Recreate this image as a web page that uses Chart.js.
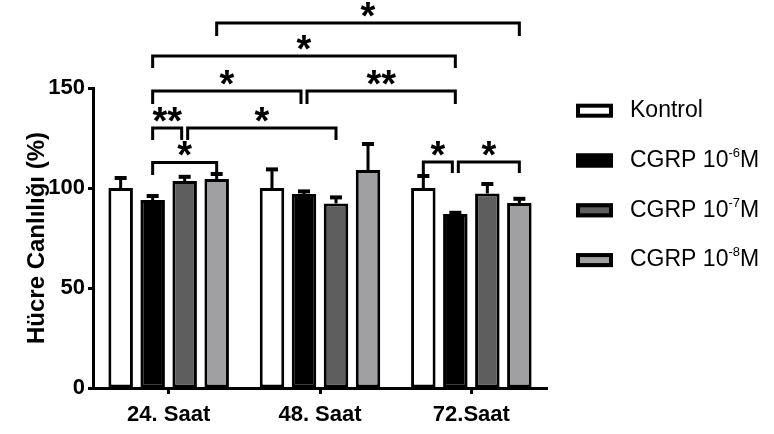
<!DOCTYPE html>
<html>
<head>
<meta charset="utf-8">
<script src="https://cdn.jsdelivr.net/npm/chart.js@4.4.1/dist/chart.umd.min.js"></script>
<style>
  html, body { margin: 0; padding: 0; background: #fff; }
  canvas { display: block; }
</style>
</head>
<body>
<canvas id="chart" width="774" height="434"></canvas>
<script>
// ---- data ----
const categories = ['24. Saat', '48. Saat', '72.Saat'];
const seriesLabels = ['Kontrol', 'CGRP 10⁻⁶M', 'CGRP 10⁻⁷M', 'CGRP 10⁻⁸M'];

// mean cell viability (%)
const kontrol = [100, 100, 100];
const cgrp6   = [94, 97, 87];
const cgrp7   = [103.5, 92.3, 97.3];
const cgrp8   = [104.5, 109, 92.5];

// upper end of the error bars (%)
const kontrolErr = [105, 109.3, 106];
const cgrp6Err   = [96, 98.3, 87.6];
const cgrp7Err   = [105.6, 95.3, 102];
const cgrp8Err   = [107, 122, 94.6];

const yTicks = [0, 50, 100, 150];

// significance brackets: ends as [category, series], bracket level and leg ends in %
const comparisons = [
  { from: [0, 3], to: [2, 3], at: 182.5, legs: [176, 176],   mark: '*'  },
  { from: [0, 1], to: [2, 1], at: 166,   legs: [160, 160],   mark: '*'  },
  { from: [0, 1], to: [1, 1], at: 148.5, legs: [142, 142],   mark: '*'  },
  { from: [1, 1], to: [2, 1], at: 148.5, legs: [142, 142],   mark: '**' },
  { from: [0, 1], to: [0, 2], at: 130,   legs: [124, 124],   mark: '**' },
  { from: [0, 2], to: [1, 2], at: 130,   legs: [124, 124],   mark: '*'  },
  { from: [0, 1], to: [0, 3], at: 112.8, legs: [106.5, 107], mark: '*'  },
  { from: [2, 0], to: [2, 1], at: 113,   legs: [106, 107.5], mark: '*'  },
  { from: [2, 1], to: [2, 3], at: 113,   legs: [107.5, 107.5], mark: '*' }
];

// ---- styling ----
const FONT = "'Liberation Sans', Arial, Helvetica, sans-serif";
const seriesColors = ['#ffffff', '#000000', '#5e5e5e', '#a0a0a2'];
const seriesValues = [kontrol, cgrp6, cgrp7, cgrp8];
const seriesErrors = [kontrolErr, cgrp6Err, cgrp7Err, cgrp8Err];

Chart.defaults.font.family = FONT;
Chart.defaults.color = '#000';

// upward error bars with a flat cap
const errorBarPlugin = {
  id: 'errorBarPlugin',
  afterDatasetsDraw(chart) {
    const ctx = chart.ctx;
    const yScale = chart.scales.y;
    ctx.save();
    ctx.fillStyle = '#000';
    chart.data.datasets.forEach((ds, i) => {
      const meta = chart.getDatasetMeta(i);
      meta.data.forEach((bar, j) => {
        const top = yScale.getPixelForValue(ds.data[j]);
        const end = yScale.getPixelForValue(ds.errorHigh[j]);
        if (top - end > 0) ctx.fillRect(bar.x - 1.5, end, 3, top - end);
        ctx.fillRect(bar.x - 6, end - 2, 12, 4);
      });
    });
    ctx.restore();
  }
};

// significance brackets with asterisks above the bars
const bracketPlugin = {
  id: 'bracketPlugin',
  afterDraw(chart) {
    const ctx = chart.ctx;
    const yScale = chart.scales.y;
    const barX = (ref) => chart.getDatasetMeta(ref[1]).data[ref[0]].x;
    const same = (a, b) => a[0] === b[0] && a[1] === b[1];
    ctx.save();
    ctx.strokeStyle = '#000';
    ctx.fillStyle = '#000';
    ctx.lineWidth = 3;
    ctx.lineJoin = 'miter';
    ctx.lineCap = 'butt';
    comparisons.forEach((c) => {
      let x1 = barX(c.from);
      let x2 = barX(c.to);
      // separate legs of neighbouring brackets that meet on the same bar
      comparisons.forEach((o) => {
        if (o === c || o.at !== c.at) return;
        if (same(o.to, c.from)) x1 += 3;
        if (same(o.from, c.to)) x2 -= 3;
      });
      const y = yScale.getPixelForValue(c.at);
      const l1 = yScale.getPixelForValue(c.legs[0]);
      const l2 = yScale.getPixelForValue(c.legs[1]);
      ctx.beginPath();
      ctx.moveTo(x1, l1);
      ctx.lineTo(x1, y);
      ctx.lineTo(x2, y);
      ctx.lineTo(x2, l2);
      ctx.stroke();
      const size = 38;
      ctx.font = 'bold ' + size + 'px ' + FONT;
      ctx.textAlign = 'center';
      ctx.textBaseline = 'alphabetic';
      ctx.fillText(c.mark, (x1 + x2) / 2, y - 16 + 0.58 * size);
    });
    ctx.restore();
  }
};

// legend on the right, with superscript exponents
const SUP = { '⁻': '-', '⁰': '0', '¹': '1', '²': '2', '³': '3', '⁴': '4', '⁵': '5', '⁶': '6', '⁷': '7', '⁸': '8', '⁹': '9' };
function segments(text) {
  const out = [];
  for (const ch of text) {
    const sup = ch in SUP;
    const c = sup ? SUP[ch] : ch;
    if (out.length && out[out.length - 1].sup === sup) out[out.length - 1].text += c;
    else out.push({ text: c, sup });
  }
  return out;
}
const legendPlugin = {
  id: 'sideLegend',
  afterDraw(chart) {
    const ctx = chart.ctx;
    const boxX = 576, boxW = 37, boxH = 14, textX = 630;
    const firstRow = 108.7, rowGap = 49.8;
    ctx.save();
    chart.data.datasets.forEach((ds, i) => {
      const yc = firstRow + i * rowGap;
      const by = yc + 2 - boxH / 2;
      ctx.fillStyle = ds.backgroundColor;
      ctx.fillRect(boxX, by, boxW, boxH);
      ctx.strokeStyle = '#000';
      ctx.lineWidth = 4;
      ctx.strokeRect(boxX + 2, by + 2, boxW - 4, boxH - 4);
      ctx.fillStyle = '#000';
      ctx.textAlign = 'left';
      ctx.textBaseline = 'alphabetic';
      const base = yc + 8.2;
      let x = textX;
      segments(ds.label).forEach((s) => {
        ctx.font = (s.sup ? '13px ' : '23px ') + FONT;
        ctx.fillText(s.text, x, s.sup ? base - 10 : base);
        x += ctx.measureText(s.text).width;
      });
    });
    ctx.restore();
  }
};

const datasets = seriesLabels.map((label, i) => ({
  label,
  data: seriesValues[i],
  errorHigh: seriesErrors[i],
  backgroundColor: seriesColors[i],
  borderColor: '#000',
  borderWidth: 3,
  borderSkipped: false,
  categoryPercentage: 0.846,
  barPercentage: 0.766
}));

new Chart(document.getElementById('chart'), {
  type: 'bar',
  data: { labels: categories, datasets },
  options: {
    responsive: false,
    animation: false,
    events: [],
    layout: { padding: { top: 88, right: 227, bottom: 0, left: 0 } },
    plugins: { legend: { display: false }, tooltip: { enabled: false } },
    scales: {
      x: {
        grid: {
          display: true, offset: false, drawOnChartArea: false,
          drawTicks: true, tickLength: 6, tickWidth: 3, tickColor: '#000'
        },
        border: { display: true, width: 3, color: '#000' },
        ticks: { font: { size: 22, weight: 'bold' }, color: '#000', padding: 8, maxRotation: 0 },
        afterFit(scale) { scale.height = 46; }
      },
      y: {
        min: 0,
        max: 150,
        afterBuildTicks(scale) { scale.ticks = yTicks.map((v) => ({ value: v })); },
        grid: {
          display: true, drawOnChartArea: false,
          drawTicks: true, tickLength: 5, tickWidth: 3, tickColor: '#000'
        },
        border: { display: true, width: 3, color: '#000' },
        ticks: { font: { size: 22, weight: 'bold' }, color: '#000', padding: 3 },
        title: {
          display: true,
          text: 'Hücre Canlılığı (%)',
          font: { size: 24, weight: 'bold' },
          color: '#000',
          padding: { top: 23, bottom: 0 }
        },
        afterFit(scale) { scale.width = 93; }
      }
    }
  },
  plugins: [errorBarPlugin, bracketPlugin, legendPlugin]
});
</script>
</body>
</html>
